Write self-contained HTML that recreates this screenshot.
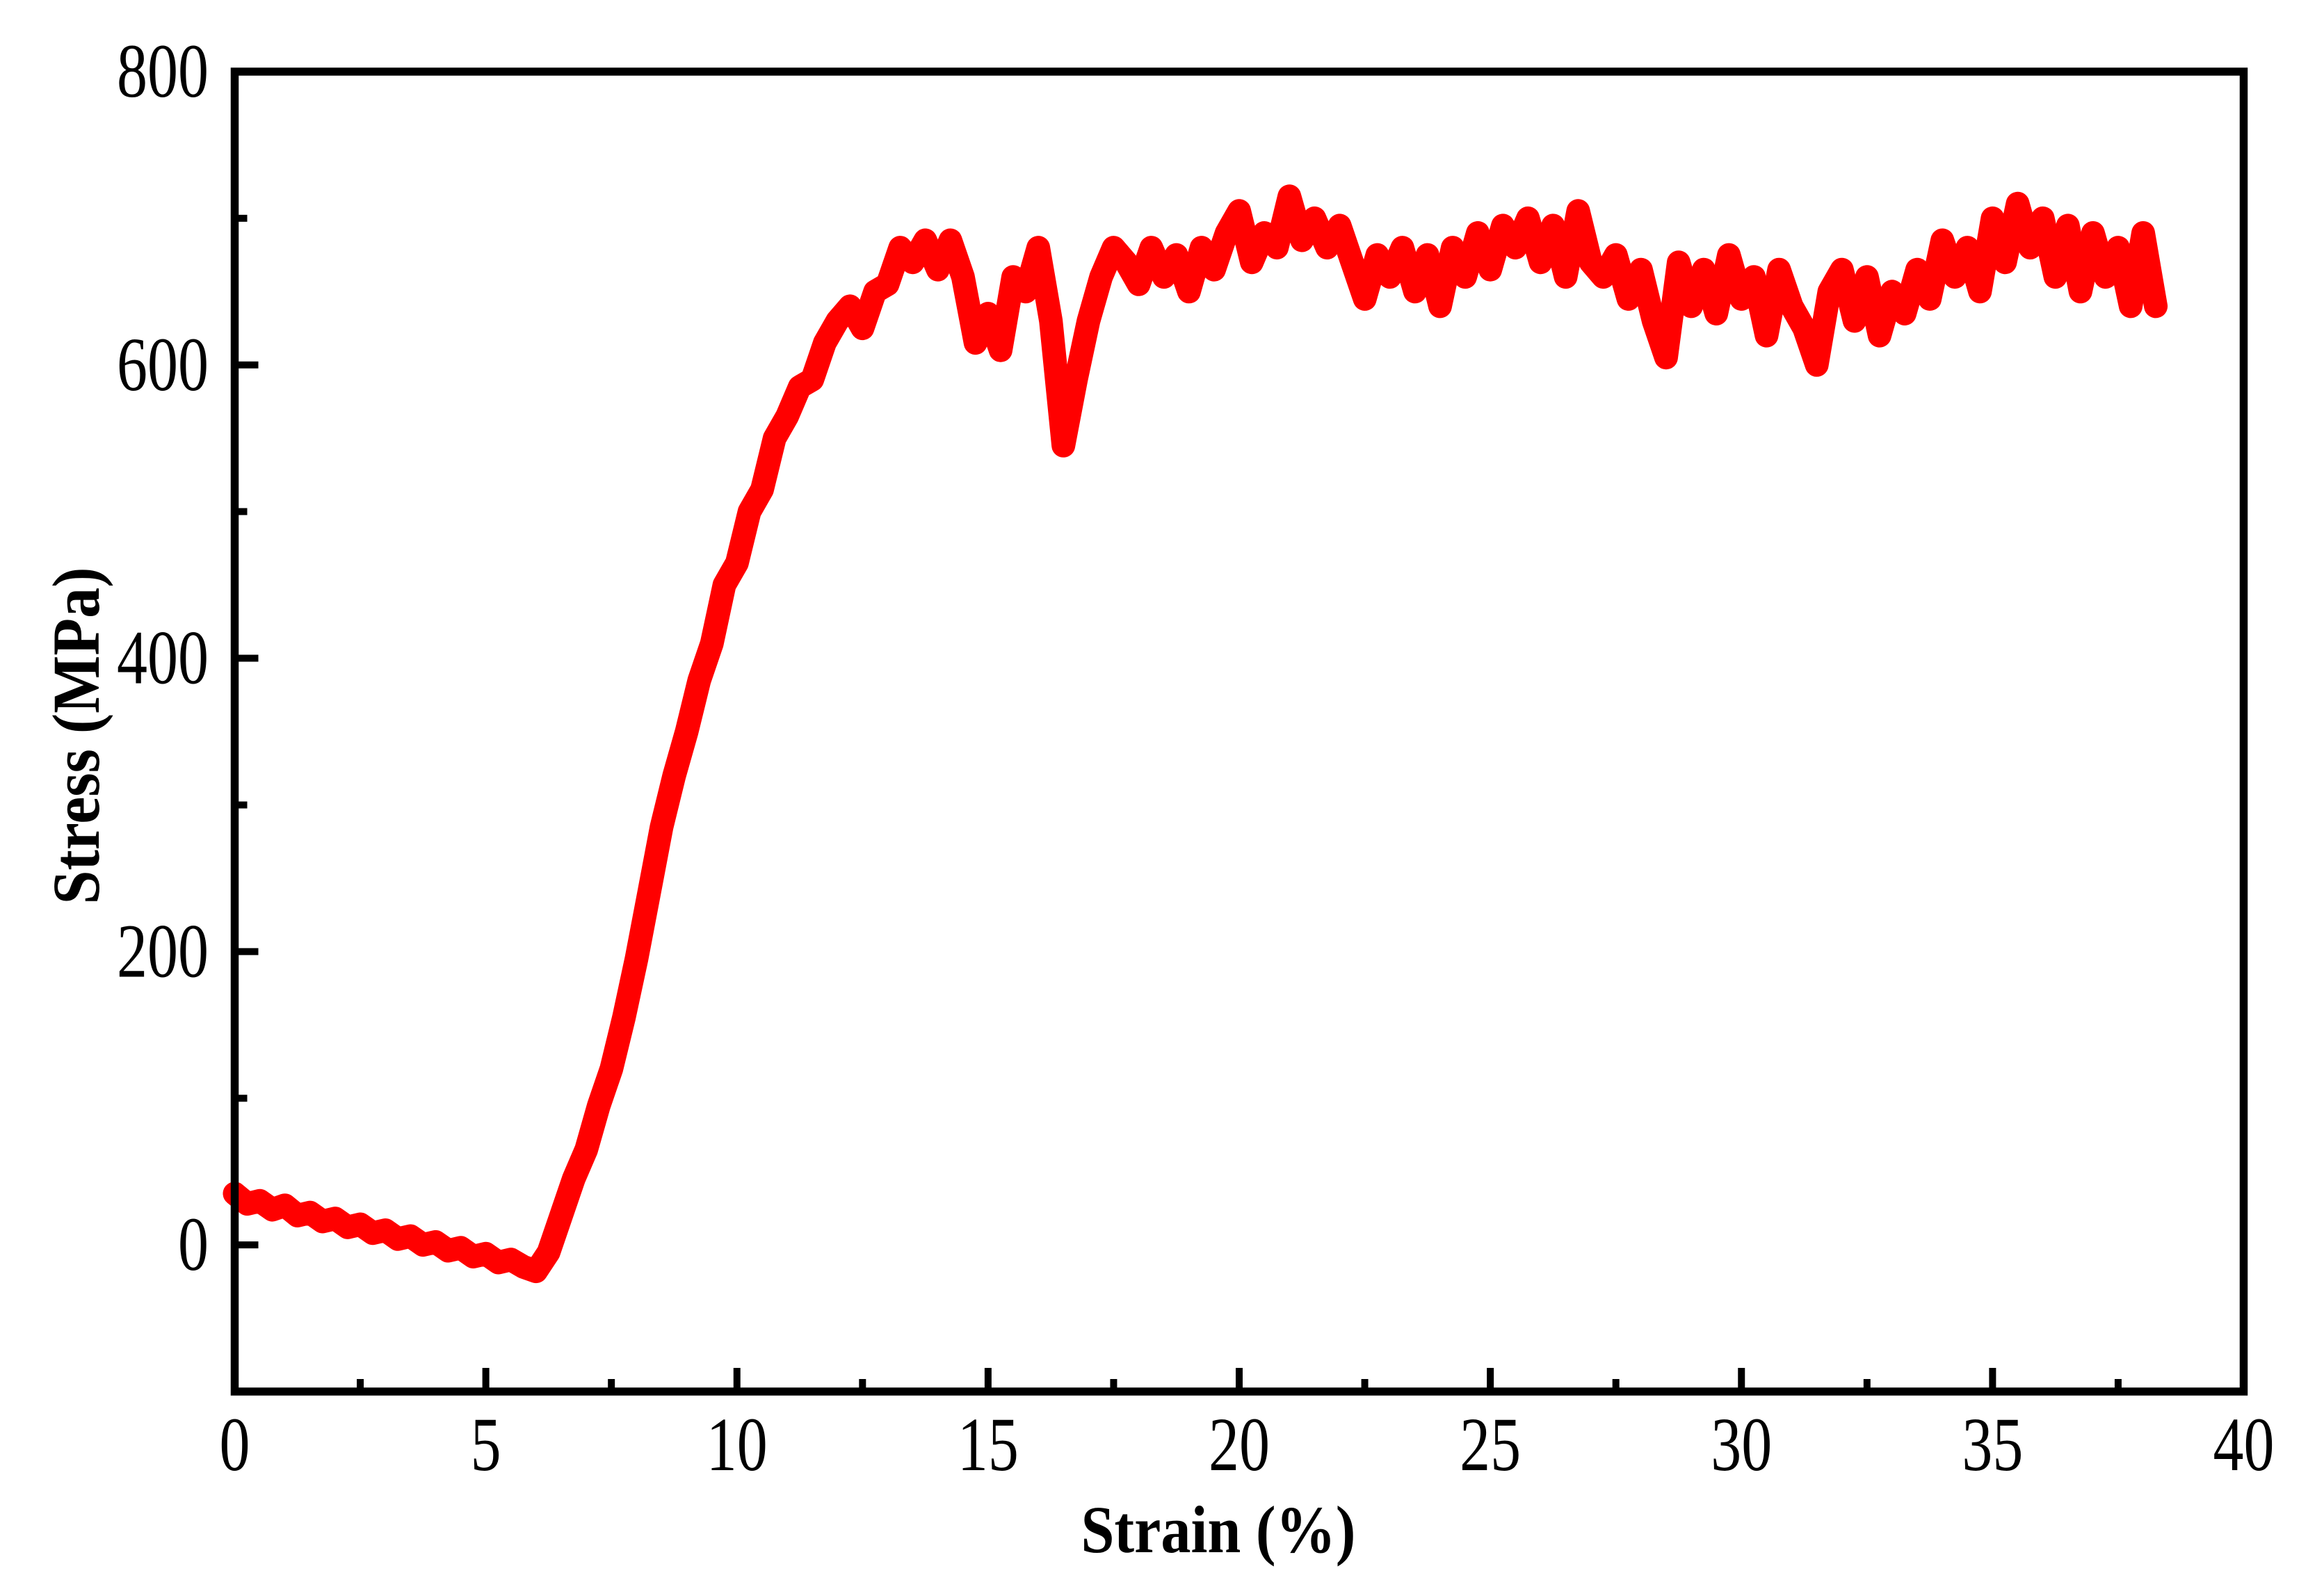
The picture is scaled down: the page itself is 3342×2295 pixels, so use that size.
<!DOCTYPE html>
<html><head><meta charset="utf-8"><style>
html,body{margin:0;padding:0;background:#fff;}
svg{display:block;}
text{font-family:"Liberation Serif",serif;fill:#000;}
</style></head><body>
<svg id="chart" width="3342" height="2295" viewBox="0 0 3342 2295" xmlns="http://www.w3.org/2000/svg">
<rect x="0" y="0" width="3342" height="2295" fill="#fff"/>
<g id="ticks"></g>
<g id="series"></g>
<rect x="337.5" y="103" width="2889" height="1898" fill="none" stroke="#000" stroke-width="11.5"/>
<g id="labels"></g>
<text x="1752" y="2232" font-size="96" font-weight="bold" text-anchor="middle" textLength="395" lengthAdjust="spacingAndGlyphs">Strain (%)</text>
<text x="0" y="0" font-size="96" font-weight="bold" text-anchor="middle" textLength="485" lengthAdjust="spacingAndGlyphs" transform="translate(142,1058) rotate(-90)">Stress (MPa)</text>
</svg>
<script>
const xTicks = [0,5,10,15,20,25,30,35,40];
const yTicks = [0,200,400,600,800];
const xMinor = [2.5,7.5,12.5,17.5,22.5,27.5,32.5,37.5];
const yMinor = [-100,100,300,500,700];
const strainStep = 0.25;
const stress = [35,28,30,24,27,20,22,16,18,12,14,8,10,4,6,0,2,-4,-2,-8,-6,-12,-10,-15,-18,
-5,20,45,65,95,120,155,195,240,285,320,350,385,410,450,465,500,515,550,565,585,590,615,630,640,625,650,655,680,670,685,665,685,660,615,635,610,660,650,680,630,545,590,630,660,680,670,655,680,660,675,650,680,665,690,705,670,690,680,715,685,700,680,695,670,645,675,660,680,650,675,640,680,660,690,665,695,680,700,670,695,660,705,670,660,675,645,665,630,605,670,640,665,635,675,645,660,620,665,640,625,600,650,665,630,660,620,650,635,665,645,685,660,680,650,700,670,710,680,700,660,695,650,690,660,680,640,690,640];
const strain = stress.map((_, i) => i * strainStep);

const X0=337.5, X1=3226.5, Y0=2001, Y1=103;
const xs = v => X0 + (v - 0) / 40 * (X1 - X0);
const ys = v => Y0 - (v + 100) / 900 * (Y0 - Y1);
const NS='http://www.w3.org/2000/svg';
const tg=document.getElementById('ticks'), lg=document.getElementById('labels'), sg=document.getElementById('series');

function line(g,x1,y1,x2,y2,w,name){
  const l=document.createElementNS(NS,'line');
  l.setAttribute('x1',x1);l.setAttribute('y1',y1);l.setAttribute('x2',x2);l.setAttribute('y2',y2);
  l.setAttribute('stroke','#000');l.setAttribute('stroke-width',w);
  
  
  g.appendChild(l);
}
function label(txt,x,y,anchor,name){
  const t=document.createElementNS(NS,'text');
  t.setAttribute('x',x);t.setAttribute('y',y);t.setAttribute('font-size','110');t.setAttribute('text-anchor',anchor);
  t.setAttribute('textLength', String(txt.length*44));
  t.setAttribute('lengthAdjust','spacingAndGlyphs');
  t.textContent=txt;
  
  
  lg.appendChild(t);
}
xTicks.forEach(v=>{ line(tg,xs(v),Y0,xs(v),Y0-34,10,'x-major-tick'); label(String(v),xs(v),2114,'middle','x-tick-label'); });
xMinor.forEach(v=>{ line(tg,xs(v),Y0,xs(v),Y0-18,10,'x-minor-tick'); });
yTicks.forEach(v=>{ line(tg,X0,ys(v),X0+34,ys(v),10,'y-major-tick'); label(String(v),300,ys(v)+36,'end','y-tick-label'); });
yMinor.forEach(v=>{ line(tg,X0,ys(v),X0+18,ys(v),10,'y-minor-tick'); });

let d='';
strain.forEach((s,i)=>{ d += (i?'L':'M') + xs(s).toFixed(1) + ',' + ys(stress[i]).toFixed(1); });
const p=document.createElementNS(NS,'path');
p.setAttribute('d',d);p.setAttribute('fill','none');p.setAttribute('stroke','#ff0000');
p.setAttribute('stroke-width','34');p.setAttribute('stroke-linejoin','round');p.setAttribute('stroke-linecap','round');


sg.appendChild(p);
</script>
</body></html>
